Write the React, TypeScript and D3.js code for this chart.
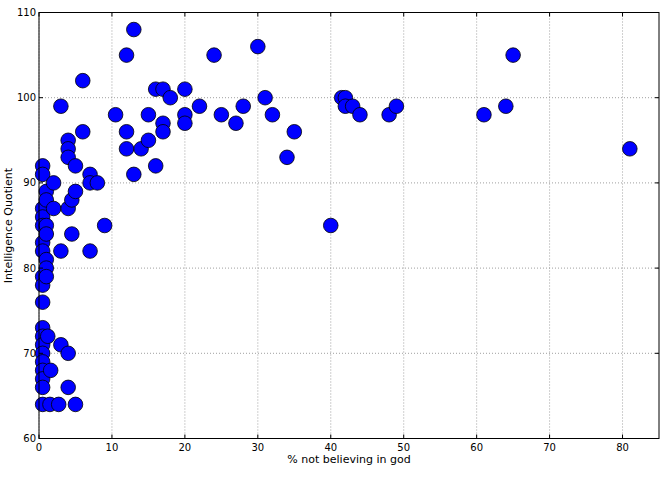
import * as d3 from 'd3'
import React from 'react'

// % of population not believing in god, per country
const atheistPct = [
  0.5, 0.5, 0.5, 0.5, 0.5, 0.5, 0.5, 0.5, 0.5, 0.5, 0.5, 0.5, 0.5, 0.5, 0.5, 0.5, 0.5, 0.5, 0.5,
  1, 1, 1, 1, 1, 1, 1, 1.2,
  1.6, 1.5, 2, 2, 3, 3, 3, 2.7,
  4, 4, 4, 4, 4, 4, 4.5, 4.5, 5, 5, 5,
  6, 6, 7, 7, 7, 8, 9, 10.5,
  12, 12, 12, 13, 13, 14, 15, 15, 16, 16, 17, 17, 17, 18,
  20, 20, 20, 22, 24, 25, 27, 28, 30, 31, 32, 34, 35,
  40, 41.5, 42, 42, 43, 44, 48, 49, 61, 64, 65, 81,
]

// national average IQ
const iq = [
  92, 91, 87, 86, 85, 83, 82, 79, 78, 76, 73, 72, 71, 70, 69, 68, 67, 66, 64,
  89, 88, 85, 84, 81, 80, 79, 72,
  68, 64, 90, 87, 99, 82, 71, 64,
  95, 94, 93, 87, 70, 66, 88, 84, 92, 89, 64,
  102, 96, 91, 90, 82, 90, 85, 98,
  105, 96, 94, 108, 91, 94, 98, 95, 101, 92, 101, 97, 96, 100,
  101, 98, 97, 99, 105, 98, 97, 99, 106, 100, 98, 93, 96,
  85, 100, 100, 99, 99, 98, 98, 99, 98, 99, 105, 94,
]

const xTicks = [0, 10, 20, 30, 40, 50, 60, 70, 80]
const yTicks = [60, 70, 80, 90, 100, 110]

const W = 666
const H = 478
const left = 39
const right = 659
const top = 12.5
const bottom = 438.5

const App = () => {
  const x = d3.scaleLinear().domain([0, 85]).range([left, right])
  const y = d3.scaleLinear().domain([60, 110]).range([bottom, top])
  const font = 'DejaVu Sans, sans-serif'
  const tickLen = 4

  return (
    <svg width={W} height={H} style={{ position: 'absolute', left: 0, top: 0, background: '#fff' }}>
      {/* grid */}
      {xTicks.map(t => (
        <line key={'gx' + t} x1={x(t)} x2={x(t)} y1={top} y2={bottom}
          stroke="#888" strokeWidth={0.8} strokeDasharray="1,2" />
      ))}
      {yTicks.map(t => (
        <line key={'gy' + t} x1={left} x2={right} y1={y(t)} y2={y(t)}
          stroke="#888" strokeWidth={0.8} strokeDasharray="1,2" />
      ))}

      {/* points */}
      {atheistPct.map((v, i) => (
        <circle key={'p' + i} cx={x(v)} cy={y(iq[i])} r={7.3}
          fill="#0000ff" stroke="#000" strokeWidth={0.8} />
      ))}

      {/* frame */}
      <rect x={left} y={top} width={right - left} height={bottom - top}
        fill="none" stroke="#000" strokeWidth={1} />

      {/* ticks, pointing in, on all sides */}
      {xTicks.map(t => (
        <g key={'tx' + t}>
          <line x1={x(t)} x2={x(t)} y1={bottom} y2={bottom - tickLen} stroke="#000" />
          <line x1={x(t)} x2={x(t)} y1={top} y2={top + tickLen} stroke="#000" />
          <text x={x(t)} y={450.5} textAnchor="middle" fontSize={10} fontFamily={font}>{t}</text>
        </g>
      ))}
      {yTicks.map(t => (
        <g key={'ty' + t}>
          <line x1={left} x2={left + tickLen} y1={y(t)} y2={y(t)} stroke="#000" />
          <line x1={right} x2={right - tickLen} y1={y(t)} y2={y(t)} stroke="#000" />
          <text x={36} y={y(t) + 3.5} textAnchor="end" fontSize={10} fontFamily={font}>{t}</text>
        </g>
      ))}

      {/* axis labels */}
      <text x={(left + right) / 2} y={463} textAnchor="middle" fontSize={11} fontFamily={font}>
        % not believing in god
      </text>
      <text transform={`translate(12, ${(top + bottom) / 2}) rotate(-90)`} textAnchor="middle"
        fontSize={11} fontFamily={font}>
        Intelligence Quotient
      </text>
    </svg>
  )
}

export default App
